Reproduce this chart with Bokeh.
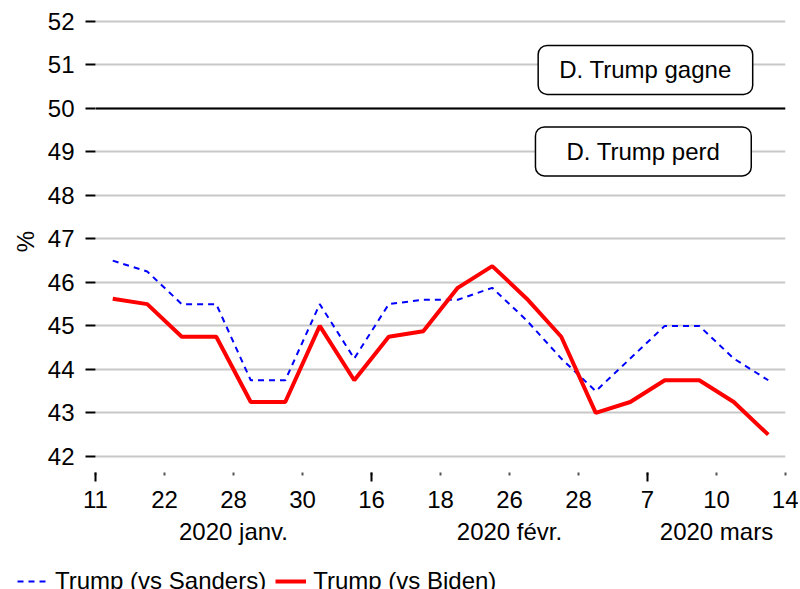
import numpy as np
from bokeh.plotting import figure
from bokeh.layouts import column
from bokeh.models import (LinearAxis, FixedTicker, Span, Label, Legend, LegendItem,
                          Range1d, ColumnDataSource)
from bokeh.embed import file_html
from bokeh.resources import INLINE

# ---- data ----
tick_labels = ["11", "22", "28", "30", "16", "18", "26", "28", "7", "10", "14"]
month_labels = ["2020 janv.", "2020 févr.", "2020 mars"]
sanders = [46.5, 46.25, 45.5, 45.5, 43.75, 43.75, 45.5, 44.25, 45.5, 45.6,
           45.6, 45.875, 45.125, 44.25, 43.5, 44.25, 45.0, 45.0, 44.25, 43.75]
biden = [45.625, 45.5, 44.75, 44.75, 43.25, 43.25, 45.0, 43.75, 44.75, 44.875,
         45.875, 46.375, 45.625, 44.75, 43.0, 43.25, 43.75, 43.75, 43.25, 42.5]
y_ticks = [42, 43, 44, 45, 46, 47, 48, 49, 50, 51, 52]
series_names = ["Trump (vs Sanders)", "Trump (vs Biden)"]
note_win = "D. Trump gagne"
note_lose = "D. Trump perd"

FONT = "Liberation Sans"
FS = "24px"

x = np.arange(len(sanders)) + 0.5
tick_pos = [2 * i for i in range(len(tick_labels))]
group_pos = [4, 12, 18]
major_long = [0, 8, 16]

src = ColumnDataSource(dict(x=x, sanders=sanders, biden=biden))

p = figure(width=798, height=555, output_backend="svg", toolbar_location=None,
           x_range=Range1d(0, 20), y_range=Range1d(41.63, 52.25),
           min_border_left=95, min_border_right=13, min_border_top=10,
           min_border_bottom=83)
p.frame_align = False
p.outline_line_color = None
p.background_fill_color = "white"

# y axis
ya = p.yaxis[0]
ya.ticker = FixedTicker(ticks=y_ticks)
ya.axis_line_color = None
ya.major_tick_in = 0
ya.major_tick_out = 10
ya.major_tick_line_width = 2
ya.minor_tick_line_color = None
ya.major_label_text_font = FONT
ya.major_label_text_font_size = FS
ya.major_label_text_color = "black"
ya.major_label_standoff = 11
ya.axis_label = "%"
ya.axis_label_text_font = FONT
ya.axis_label_text_font_size = FS
ya.axis_label_text_color = "black"
ya.axis_label_text_font_style = "normal"
ya.axis_label_standoff = 6

p.ygrid.ticker = FixedTicker(ticks=y_ticks)
p.ygrid.grid_line_color = "#c8c8c8"
p.ygrid.grid_line_width = 2
p.xgrid.grid_line_color = None

# x axis (day ticks)
xa = p.xaxis[0]
xa.ticker = FixedTicker(ticks=tick_pos, minor_ticks=major_long)
xa.major_label_overrides = {pos: lab for pos, lab in zip(tick_pos, tick_labels)}
xa.axis_line_color = None
xa.major_tick_in = 0
xa.major_tick_out = 3
xa.major_tick_line_width = 2
xa.major_tick_line_color = "#555555"
xa.minor_tick_in = 0
xa.minor_tick_out = 9
xa.minor_tick_line_width = 2
xa.minor_tick_line_color = "black"
xa.major_label_text_font = FONT
xa.major_label_text_font_size = FS
xa.major_label_text_color = "black"
xa.major_label_standoff = 9

# x axis (month groups)
ga = LinearAxis(ticker=FixedTicker(ticks=group_pos, minor_ticks=[]))
ga.major_label_overrides = {pos: lab for pos, lab in zip(group_pos, month_labels)}
ga.axis_line_color = None
ga.major_tick_line_color = None
ga.major_tick_in = 0
ga.major_tick_out = 0
ga.major_label_text_font = FONT
ga.major_label_text_font_size = FS
ga.major_label_text_color = "black"
ga.major_label_standoff = 7
p.add_layout(ga, "below")

# 50 % line
p.add_layout(Span(location=50, dimension="width", line_color="black", line_width=2))

LINE1 = dict(line_color="blue", line_width=2, line_dash="6 5")
LINE2 = dict(line_color="red", line_width=4)
p.line("x", "sanders", source=src, **LINE1)
p.line("x", "biden", source=src, **LINE2)

for txt, xx, yy, pad in [(note_win, 15.94, 50.885, (21, 11)), (note_lose, 15.88, 49.01, (31, 11))]:
    p.add_layout(Label(x=xx, y=yy, text=txt, text_align="center", text_baseline="middle",
                       text_font=FONT, text_font_size=FS, text_color="black",
                       background_fill_color="white", border_line_color="black",
                       border_line_width=1.5, border_radius=9, padding=pad))

# legend in its own strip below the chart (series drawn out of view, only legend shows)
lg = figure(width=798, height=34, output_backend="svg", toolbar_location=None,
            x_range=Range1d(100, 101), y_range=Range1d(100, 101),
            x_axis_type=None, y_axis_type=None, min_border=0)
lg.frame_align = False
lg.outline_line_color = None
lg.grid.visible = False
l1 = lg.line("x", "sanders", source=src, **LINE1)
l2 = lg.line("x", "biden", source=src, **LINE2)
legend = Legend(items=[LegendItem(label=series_names[0], renderers=[l1]),
                       LegendItem(label=series_names[1], renderers=[l2])],
                orientation="horizontal", location=(17, -6),
                label_text_font=FONT, label_text_font_size=FS, label_text_color="black",
                glyph_width=31, label_standoff=7, spacing=9, padding=0, margin=0,
                border_line_color=None, background_fill_alpha=0)
lg.add_layout(legend, "center")

layout = column(p, lg, spacing=0)
open("out.html", "w").write(file_html(layout, INLINE))
